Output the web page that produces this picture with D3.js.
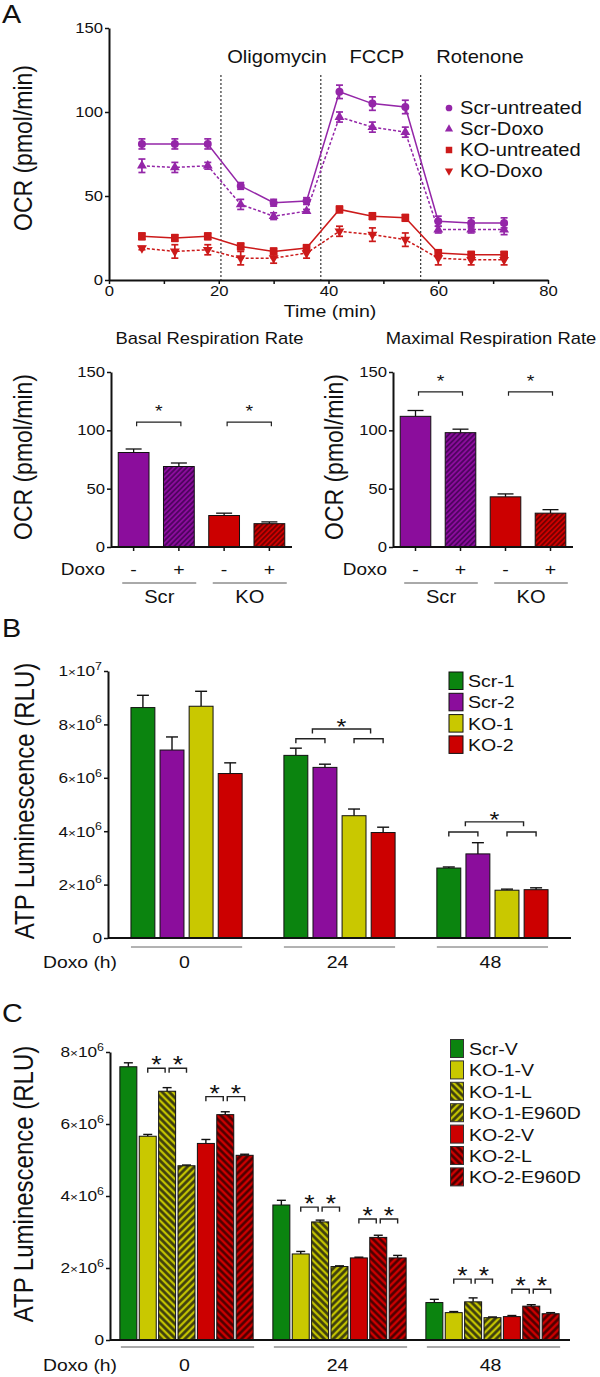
<!DOCTYPE html>
<html><head><meta charset="utf-8">
<script src="https://cdn.jsdelivr.net/npm/d3@7"></script>
<style>
body{margin:0;background:#fff}
svg{display:block}
text{font-family:"Liberation Sans",Arial,Helvetica,sans-serif;fill:#111}
</style>
</head><body>
<svg id="c" width="600" height="1377"></svg>
<script>
// ---------------- DATA ----------------
// Panel A - OCR time course
const timeMin = [6,12,18,24,30,36,42,48,54,60,66,72];
const scrUntreated = [81,81,81,56,46,47,112,105,103,35,34,34];
const scrUntreatedErr = [3,3,3,2,2,2,4,4,4,3,3,3];
const scrDoxo = [68,67,68,45,38,41,97,91,88,30,30,30];
const scrDoxoErr = [4,3,2,3,2,1,3,3,3,2,2,3];
const koUntreated = [26,25,26,20,17,19,42,38,37,16,15,15];
const koUntreatedErr = [2,2,2,2,2,2,2,2,2,2,2,2];
const koDoxo = [19,17,18,13,13,16,29,27,24,13,12,12];
const koDoxoErr = [1,4,3,4,3,3,3,4,4,4,3,3];
const injectionTimes = [20.4,38.6,56.8];
const injectionLabels = ["Oligomycin","FCCP","Rotenone"];
const injectionLabelTimes = [30.6,48.8,67.6];
const ocrTicks = [0,50,100,150];
const timeTicks = [0,10,20,30,40,50,60,70,80];

// Panel A - respiration bars
const respBars = ["Scr-","Scr+","KO-","KO+"];
const doxoSigns = ["-","+","-","+"];
const cellGroups = ["Scr","KO"];
const basalValues = [81,69,27,20];
const basalErr = [3,3,2,1.5];
const maximalValues = [112,98,43,29];
const maximalErr = [5,3,2.5,3];
const basalSigLevel = 107;
const maximalSigLevel = 133;

// Panel B - ATP luminescence
const doxoHours = ["0","24","48"];
const bLines = ["Scr-1","Scr-2","KO-1","KO-2"];
const scr1B = [8.63e6,6.84e6,2.62e6];
const scr1BErr = [0.46e6,0.27e6,0.04e6];
const scr2B = [7.04e6,6.39e6,3.15e6];
const scr2BErr = [0.49e6,0.12e6,0.42e6];
const ko1B = [8.68e6,4.58e6,1.79e6];
const ko1BErr = [0.56e6,0.25e6,0.04e6];
const ko2B = [6.16e6,3.95e6,1.81e6];
const ko2BErr = [0.40e6,0.20e6,0.07e6];
const bTicks = [0,2e6,4e6,6e6,8e6,1e7];
const bSigGroups = ["24","48"];
const bSigSmall = [7.46e6,3.97e6];
const bSigBig = [7.83e6,4.35e6];

// Panel C - ATP luminescence rescue
const cLines = ["Scr-V","KO-1-V","KO-1-L","KO-1-E960D","KO-2-V","KO-2-L","KO-2-E960D"];
const scrV = [7.59e6,3.75e6,1.04e6];
const scrVErr = [0.11e6,0.13e6,0.09e6];
const ko1V = [5.66e6,2.39e6,0.76e6];
const ko1VErr = [0.05e6,0.07e6,0.03e6];
const ko1L = [6.91e6,3.28e6,1.06e6];
const ko1LErr = [0.10e6,0.05e6,0.11e6];
const ko1E = [4.84e6,2.04e6,0.62e6];
const ko1EErr = [0.02e6,0.02e6,0.02e6];
const ko2V = [5.46e6,2.28e6,0.65e6];
const ko2VErr = [0.11e6,0.02e6,0.03e6];
const ko2L = [6.26e6,2.85e6,0.94e6];
const ko2LErr = [0.08e6,0.06e6,0.04e6];
const ko2E = [5.13e6,2.28e6,0.73e6];
const ko2EErr = [0.03e6,0.07e6,0.03e6];
const cTicks = [0,2e6,4e6,6e6,8e6];
const cSigKO1 = [7.55e6,3.69e6,1.69e6];
const cSigKO2 = [6.76e6,3.36e6,1.41e6];

// ---------------- STYLE ----------------
const S = 1.15; // horizontal text stretch of the original figure
const PURPLE = "#8b0d9c", PURPLE_L = "#9426a8", RED = "#cc0000", RED_L = "#cc1a1a";
const GREEN = "#0b840f", YELLOW = "#c9c800";
const svg = d3.select("#c");
const defs = svg.append("defs");

function hatch(id, bg, line, angle, spacing, w){
  const p = defs.append("pattern").attr("id",id).attr("patternUnits","userSpaceOnUse")
    .attr("width",spacing).attr("height",spacing).attr("patternTransform",`rotate(${angle})`);
  p.append("rect").attr("width",spacing).attr("height",spacing).attr("fill",bg);
  p.append("line").attr("x1",spacing/2).attr("x2",spacing/2).attr("y1",0).attr("y2",spacing)
    .attr("stroke",line).attr("stroke-width",w);
}
hatch("hPurple",PURPLE,"#3f0050",45,3.6,1.4);
hatch("hRed",RED,"#5a0000",45,3.6,1.4);
hatch("hYelB","#c2c200","#38380f",-45,5,2.6);
hatch("hYelF","#c2c200","#38380f",45,5,2.6);
hatch("hRedB",RED,"#420000",-45,5,2.4);
hatch("hRedF",RED,"#420000",45,5,2.4);

function label(x,y,s,size,anchor="middle"){
  return svg.append("text").attr("transform",`translate(${x},${y}) scale(${S},1)`)
    .attr("font-size",size).attr("text-anchor",anchor).text(s);
}
function vlabel(x,y,s,size){
  return svg.append("text").attr("transform",`translate(${x},${y}) rotate(-90) scale(1,${S})`)
    .attr("font-size",size).attr("text-anchor","middle").text(s);
}
function styleAxis(g,fs){
  g.select(".domain").attr("stroke","#111").attr("stroke-width",2);
  g.selectAll(".tick line").attr("stroke","#111").attr("stroke-width",1.5);
  g.selectAll(".tick text").attr("font-size",fs).attr("fill","#111")
    .attr("font-family",'"Liberation Sans",Arial,sans-serif')
    .each(function(){
      const t = d3.select(this);
      const x = +t.attr("x") || 0;
      t.attr("x", x/S).attr("transform",`scale(${S},1)`);
    });
}
function sciFormat(sel){
  sel.each(function(d){
    const t = d3.select(this); t.text(null);
    if(d===0){ t.text("0"); return; }
    const e = Math.floor(Math.log10(d)+1e-9), m = Math.round(d/Math.pow(10,e));
    t.append("tspan").text(m);
    t.append("tspan").attr("font-size","0.78em").text("\u00d7");
    t.append("tspan").text("10");
    t.append("tspan").attr("font-size","0.72em").attr("dy","-0.6em").text(e);
  });
}

// ---------------- PANEL A: line chart ----------------
label(2,23,"A",25,"start");
const xA = d3.scaleLinear().domain([0,80]).range([109,548]);
const yA = d3.scaleLinear().domain([0,150]).range([280,28]);
const gyA = svg.append("g").attr("transform",`translate(${xA(0)},0)`)
  .call(d3.axisLeft(yA).tickValues(ocrTicks).tickSize(4).tickSizeOuter(0).tickPadding(2));
styleAxis(gyA,14.5);
const gxA = svg.append("g").attr("transform",`translate(0,${yA(0)})`)
  .call(d3.axisBottom(xA).tickValues(timeTicks).tickFormat(d=>d%20===0?d:"").tickSize(4).tickSizeOuter(0).tickPadding(2));
styleAxis(gxA,14.5);
label(330,317,"Time (min)",17);
vlabel(32,148,"OCR (pmol/min)",23);

injectionTimes.forEach((t,i)=>{
  svg.append("line").attr("x1",xA(t)).attr("x2",xA(t)).attr("y1",75).attr("y2",yA(0))
    .attr("stroke","#222").attr("stroke-width",1.1).attr("stroke-dasharray","2,2");
  label(xA(injectionLabelTimes[i]),63,injectionLabels[i],17.5);
});

const seriesA = [
  {name:"Scr-untreated", v:scrUntreated, e:scrUntreatedErr, c:PURPLE_L, dash:null, sym:d3.symbolCircle, size:50, rot:0},
  {name:"Scr-Doxo", v:scrDoxo, e:scrDoxoErr, c:PURPLE_L, dash:"3,2", sym:d3.symbolTriangle, size:42, rot:0},
  {name:"KO-untreated", v:koUntreated, e:koUntreatedErr, c:RED_L, dash:null, sym:d3.symbolSquare, size:60, rot:0},
  {name:"KO-Doxo", v:koDoxo, e:koDoxoErr, c:RED_L, dash:"3,2", sym:d3.symbolTriangle, size:42, rot:180}
];
const lineA = d3.line().x((d,i)=>xA(timeMin[i])).y(d=>yA(d));
seriesA.forEach(s=>{
  const g = svg.append("g");
  g.append("path").attr("d",lineA(s.v)).attr("fill","none").attr("stroke",s.c).attr("stroke-width",1.5)
    .attr("stroke-dasharray",s.dash);
  s.v.forEach((v,i)=>{
    const x = xA(timeMin[i]);
    g.append("line").attr("x1",x).attr("x2",x).attr("y1",yA(v-s.e[i])).attr("y2",yA(v+s.e[i])).attr("stroke",s.c).attr("stroke-width",1.7);
    [v-s.e[i],v+s.e[i]].forEach(b=>g.append("line").attr("x1",x-3.5).attr("x2",x+3.5).attr("y1",yA(b)).attr("y2",yA(b)).attr("stroke",s.c).attr("stroke-width",1.7));
    g.append("path").attr("d",d3.symbol().type(s.sym).size(s.size)())
      .attr("transform",`translate(${x},${yA(v)}) rotate(${s.rot})`).attr("fill",s.c);
  });
});
// legend
seriesA.forEach((s,i)=>{
  const y = 108 + i*21;
  svg.append("path").attr("d",d3.symbol().type(s.sym).size(s.size*0.7)())
    .attr("transform",`translate(449,${y}) rotate(${s.rot})`).attr("fill",s.c);
  label(460,y+6,s.name,17.5,"start");
});

// ---------------- PANEL A: respiration bar charts ----------------
function respChart(x0,x1,values,errs,title,sigLevel,yLabelX){
  const x = d3.scaleBand().domain(respBars).range([x0,x1]).paddingInner(0.32).paddingOuter(0.16);
  const y = d3.scaleLinear().domain([0,150]).range([547,372]);
  const fills = [PURPLE,"url(#hPurple)",RED,"url(#hRed)"];
  respBars.forEach((b,i)=>{
    const cx = x(b)+x.bandwidth()/2;
    const top = y(values[i]+errs[i]);
    svg.append("line").attr("x1",cx).attr("x2",cx).attr("y1",y(values[i])).attr("y2",top).attr("stroke","#111").attr("stroke-width",1.3);
    svg.append("line").attr("x1",cx-8).attr("x2",cx+8).attr("y1",top).attr("y2",top).attr("stroke","#111").attr("stroke-width",1.3);
    svg.append("rect").attr("x",x(b)).attr("y",y(values[i])).attr("width",x.bandwidth()).attr("height",y(0)-y(values[i]))
      .attr("fill",fills[i]).attr("stroke","#111").attr("stroke-width",1);
    label(cx,575,doxoSigns[i],17);
  });
  const gy = svg.append("g").attr("transform",`translate(${x0},0)`)
    .call(d3.axisLeft(y).tickValues(ocrTicks).tickSize(4).tickSizeOuter(0).tickPadding(2));
  styleAxis(gy,14.5);
  const gx = svg.append("g").attr("transform",`translate(0,${y(0)})`)
    .call(d3.axisBottom(x).tickSize(4).tickSizeOuter(0).tickFormat(""));
  styleAxis(gx,14.5);
  gx.select(".domain").attr("d",`M${x0},0H${x1}`);
  label((x0+x1)/2+8,344,title,16);
  vlabel(yLabelX,457,"OCR (pmol/min)",23);
  label(x0-6,575,"Doxo",16.5,"end");
  cellGroups.forEach((gname,gi)=>{
    const a = x(respBars[gi*2]) + 4, b = x(respBars[gi*2+1]) + x.bandwidth() + 2;
    svg.append("line").attr("x1",a).attr("x2",b).attr("y1",583).attr("y2",583).attr("stroke","#555").attr("stroke-width",1);
    label((a+b)/2,603,gname,17.5);
    const c1 = x(respBars[gi*2])+x.bandwidth()/2+3, c2 = x(respBars[gi*2+1])+x.bandwidth()/2+2;
    const sy = y(sigLevel);
    svg.append("path").attr("d",`M${c1},${sy+4}V${sy}H${c2}V${sy+4}`).attr("fill","none").attr("stroke","#222").attr("stroke-width",1.2);
    label((c1+c2)/2,sy-5,"*",17);
  });
}
respChart(111,292,basalValues,basalErr,"Basal Respiration Rate",basalSigLevel,32);
respChart(393,573,maximalValues,maximalErr,"Maximal Respiration Rate",maximalSigLevel,343);

function bracket(x1,x2,y,d=4.5){
  svg.append("path").attr("d",`M${x1},${y+d}V${y}H${x2}V${y+d}`).attr("fill","none").attr("stroke","#222").attr("stroke-width",1.4);
}

// ---------------- PANEL B ----------------
label(2,637,"B",25,"start");
const xB = d3.scaleBand().domain(doxoHours).range([110,569]).paddingInner(0.273).paddingOuter(0.137);
const xBi = d3.scaleBand().domain(bLines).range([0,xB.bandwidth()]).paddingInner(0.178).paddingOuter(0);
const yB = d3.scaleLinear().domain([0,1e7]).range([938,671]);
const bVals = [scr1B,scr2B,ko1B,ko2B], bErrs = [scr1BErr,scr2BErr,ko1BErr,ko2BErr];
const bFills = [GREEN,PURPLE,YELLOW,RED];
doxoHours.forEach((h,gi)=>{
  bLines.forEach((ln,li)=>{
    const bx = xB(h)+xBi(ln), w = xBi.bandwidth(), cx = bx+w/2;
    const v = bVals[li][gi], top = yB(v+bErrs[li][gi]);
    svg.append("line").attr("x1",cx).attr("x2",cx).attr("y1",yB(v)).attr("y2",top).attr("stroke","#111").attr("stroke-width",1.4);
    svg.append("line").attr("x1",cx-6).attr("x2",cx+6).attr("y1",top).attr("y2",top).attr("stroke","#111").attr("stroke-width",1.4);
    svg.append("rect").attr("x",bx).attr("y",yB(v)).attr("width",w).attr("height",yB(0)-yB(v))
      .attr("fill",bFills[li]).attr("stroke","#111").attr("stroke-width",1);
  });
  svg.append("line").attr("x1",xB(h)).attr("x2",xB(h)+xB.bandwidth()).attr("y1",947).attr("y2",947).attr("stroke","#666").attr("stroke-width",1);
  label(xB(h)+xB.bandwidth()/2-2,968,h,17);
});
bSigGroups.forEach((h,k)=>{
  const c = bLines.map(ln=>xB(h)+xBi(ln)+xBi.bandwidth()/2);
  const ys = yB(bSigSmall[k]), yb = yB(bSigBig[k]);
  bracket(c[0],c[1],ys); bracket(c[2],c[3],ys);
  const m1 = (c[0]+c[1])/2+2, m2 = (c[2]+c[3])/2+2;
  bracket(m1,m2,yb);
  label((m1+m2)/2,yb+5,"*",22);
});
const gyB = svg.append("g").attr("transform",`translate(108,0)`)
  .call(d3.axisLeft(yB).tickValues(bTicks).tickSize(4).tickSizeOuter(0).tickPadding(2));
gyB.selectAll(".tick text").call(sciFormat);
styleAxis(gyB,15);
svg.append("line").attr("x1",108).attr("x2",571).attr("y1",yB(0)).attr("y2",yB(0)).attr("stroke","#111").attr("stroke-width",2);
vlabel(34,801,"ATP Luminescence (RLU)",24);
label(43,968,"Doxo (h)",16.8,"start");
bLines.forEach((ln,i)=>{
  const y = 672 + i*21.3;
  svg.append("rect").attr("x",449).attr("y",y).attr("width",14).attr("height",17.5).attr("fill",bFills[i]).attr("stroke","#111").attr("stroke-width",1);
  label(468,y+15,ln,17,"start");
});

// ---------------- PANEL C ----------------
label(2,1022,"C",25,"start");
const xC = d3.scaleBand().domain(doxoHours).range([110,569]).paddingInner(0.129).paddingOuter(0.0645);
const xCi = d3.scaleBand().domain(cLines).range([0,xC.bandwidth()]).paddingInner(0.124).paddingOuter(0);
const yC = d3.scaleLinear().domain([0,8e6]).range([1340,1052]);
const cVals = [scrV,ko1V,ko1L,ko1E,ko2V,ko2L,ko2E];
const cErrs = [scrVErr,ko1VErr,ko1LErr,ko1EErr,ko2VErr,ko2LErr,ko2EErr];
const cFills = [GREEN,YELLOW,"url(#hYelB)","url(#hYelF)",RED,"url(#hRedB)","url(#hRedF)"];
doxoHours.forEach((h,gi)=>{
  cLines.forEach((ln,li)=>{
    const bx = xC(h)+xCi(ln), w = xCi.bandwidth(), cx = bx+w/2;
    const v = cVals[li][gi], top = yC(v+cErrs[li][gi]);
    svg.append("line").attr("x1",cx).attr("x2",cx).attr("y1",yC(v)).attr("y2",top).attr("stroke","#111").attr("stroke-width",1.4);
    svg.append("line").attr("x1",cx-4.5).attr("x2",cx+4.5).attr("y1",top).attr("y2",top).attr("stroke","#111").attr("stroke-width",1.4);
    svg.append("rect").attr("x",bx).attr("y",yC(v)).attr("width",w).attr("height",yC(0)-yC(v))
      .attr("fill",cFills[li]).attr("stroke","#111").attr("stroke-width",1);
  });
  const c = cLines.map(ln=>xC(h)+xCi(ln)+xCi.bandwidth()/2);
  [[1,2,3,cSigKO1[gi]],[4,5,6,cSigKO2[gi]]].forEach(([a,b,d,lvl])=>{
    const y = yC(lvl);
    bracket(c[a],c[b]-2,y); bracket(c[b]+2,c[d],y);
    label((c[a]+c[b]-2)/2,y+5,"*",23);
    label((c[b]+2+c[d])/2,y+5,"*",23);
  });
  svg.append("line").attr("x1",xC(h)+1).attr("x2",xC(h)+xC.bandwidth()+1).attr("y1",1347).attr("y2",1347).attr("stroke","#555").attr("stroke-width",1);
  label(xC(h)+xC.bandwidth()/2-2,1371,h,17);
});
const gyC = svg.append("g").attr("transform",`translate(110,0)`)
  .call(d3.axisLeft(yC).tickValues(cTicks).tickSize(4).tickSizeOuter(0).tickPadding(2));
gyC.selectAll(".tick text").call(sciFormat);
styleAxis(gyC,15);
svg.append("line").attr("x1",110).attr("x2",570).attr("y1",yC(0)).attr("y2",yC(0)).attr("stroke","#111").attr("stroke-width",2);
vlabel(33,1184,"ATP Luminescence (RLU)",24);
label(43,1371,"Doxo (h)",16.8,"start");
cLines.forEach((ln,i)=>{
  const y = 1039.5 + i*21.4;
  svg.append("rect").attr("x",450.5).attr("y",y).attr("width",13).attr("height",18).attr("fill",cFills[i]).attr("stroke","#333").attr("stroke-width",1);
  label(469,y+15.5,ln,17,"start");
});
</script>
</body></html>
